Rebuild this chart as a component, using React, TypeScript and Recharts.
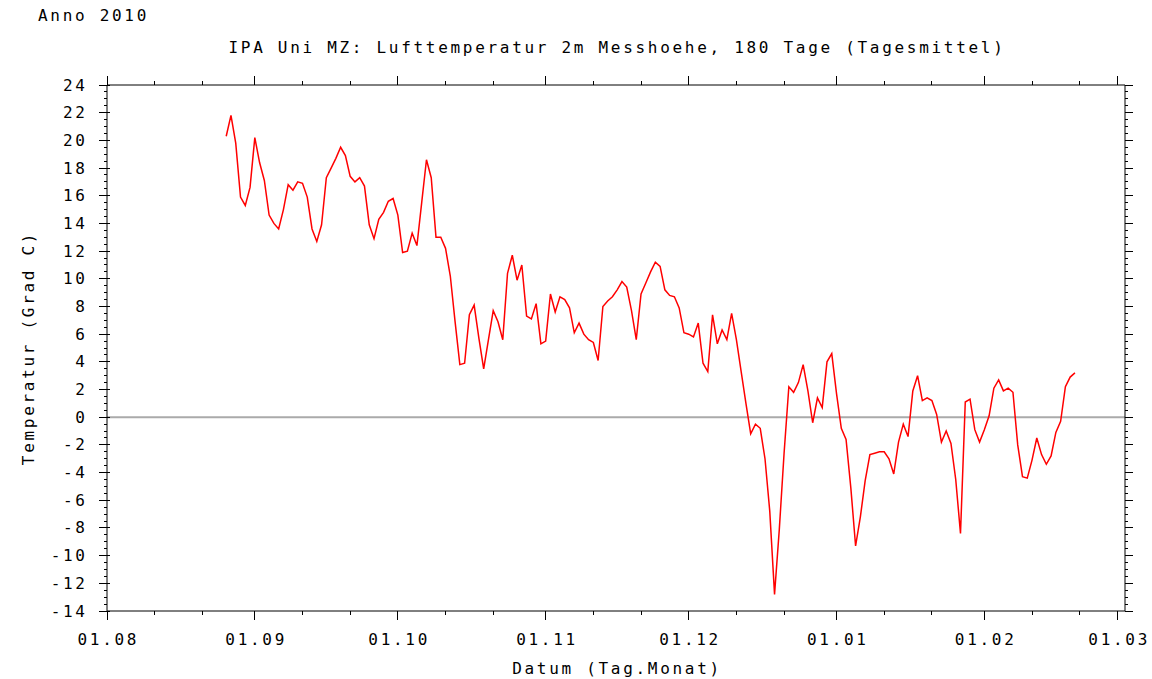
import React from "react";
import { LineChart, Line, XAxis, YAxis, ReferenceLine } from "recharts";

// days counted from 01.08.2010 (day 0)
const firstDay = 25;

// daily mean air temperature, Grad C
const temps = [
  20.3, 21.8, 19.8, 15.9, 15.3, 16.6, 20.2, 18.4, 17.1, 14.6,
  14.0, 13.6, 15.0, 16.8, 16.4, 17.0, 16.9, 15.9, 13.6, 12.7,
  13.9, 17.3, 18.0, 18.7, 19.5, 18.9, 17.4, 17.0, 17.3, 16.7,
  13.9, 12.9, 14.3, 14.8, 15.6, 15.8, 14.6, 11.9, 12.0, 13.3,
  12.4, 15.5, 18.6, 17.3, 13.0, 13.0, 12.2, 10.2, 6.9, 3.8,
  3.9, 7.4, 8.1, 5.7, 3.5, 5.6, 7.7, 6.9, 5.6, 10.4,
  11.7, 9.9, 11.0, 7.3, 7.1, 8.2, 5.3, 5.5, 8.9, 7.6,
  8.7, 8.5, 7.9, 6.1, 6.8, 6.0, 5.6, 5.4, 4.1, 8.0,
  8.4, 8.7, 9.2, 9.8, 9.4, 7.7, 5.6, 8.9, 9.7, 10.5,
  11.2, 10.9, 9.2, 8.8, 8.7, 7.9, 6.1, 6.0, 5.8, 6.8,
  3.9, 3.3, 7.4, 5.3, 6.3, 5.6, 7.5, 5.6, 3.3, 1.0,
  -1.2, -0.5, -0.8, -3.0, -6.8, -12.8, -8.1, -2.6, 2.2, 1.8,
  2.5, 3.8, 1.9, -0.4, 1.4, 0.7, 4.0, 4.6, 1.7, -0.8,
  -1.6, -5.1, -9.3, -7.2, -4.6, -2.7, -2.6, -2.5, -2.5, -3.0,
  -4.1, -1.8, -0.5, -1.4, 1.9, 3.0, 1.2, 1.4, 1.2, 0.2,
  -1.8, -1.0, -1.9, -4.5, -8.4, 1.1, 1.3, -0.9, -1.8, -0.9,
  0.1, 2.1, 2.7, 1.9, 2.1, 1.8, -2.0, -4.3, -4.4, -3.1,
  -1.5, -2.7, -3.4, -2.8, -1.1, -0.3, 2.2, 2.9, 3.2,
];

const monthStarts = [0, 31, 61, 92, 122, 153, 184, 212];
const monthLabels = ["01.08", "01.09", "01.10", "01.11", "01.12", "01.01", "01.02", "01.03"];
const minorDays = [10, 20, 41, 51, 71, 81, 102, 112, 132, 142, 163, 173, 194, 204];
const yMajor = [-14, -12, -10, -8, -6, -4, -2, 0, 2, 4, 6, 8, 10, 12, 14, 16, 18, 20, 22, 24];

const PLOT = { left: 107, right: 1125, top: 85, bottom: 611 };
const FONT = "'DejaVu Sans Mono', monospace";
const FS = 16;
const LS = 2.7;

const data = temps.map((t, i) => ({ day: firstDay + i, t }));
const xTicks = [...monthStarts, ...minorDays].sort((a, b) => a - b);
const yTicks: number[] = [];
for (let v = -14; v <= 24; v += 0.5) yTicks.push(v);

function XTick(props: any) {
  const { x, payload } = props;
  const idx = monthStarts.indexOf(payload.value);
  const len = idx >= 0 ? 9 : 4;
  return (
    <g>
      <line x1={x} x2={x} y1={PLOT.bottom} y2={PLOT.bottom + len} stroke="#000" shapeRendering="crispEdges" />
      <line x1={x} x2={x} y1={PLOT.top} y2={PLOT.top - len} stroke="#000" shapeRendering="crispEdges" />
      {idx >= 0 && (
        <text x={x + LS / 2} y={PLOT.bottom + 34} textAnchor="middle" fontFamily={FONT} fontSize={FS} letterSpacing={LS} fill="#000">
          {monthLabels[idx]}
        </text>
      )}
    </g>
  );
}

function YTick(props: any) {
  const { y, payload } = props;
  const v = payload.value;
  const major = yMajor.includes(v);
  const len = major ? 8 : 3;
  return (
    <g>
      <line x1={PLOT.left - len} x2={PLOT.left + (major ? 3 : 0)} y1={y} y2={y} stroke="#000" shapeRendering="crispEdges" />
      <line x1={PLOT.right} x2={PLOT.right + len} y1={y} y2={y} stroke="#000" shapeRendering="crispEdges" />
      {major && (
        <text x={PLOT.left - 22 + LS} y={y} textAnchor="end" dominantBaseline="central" fontFamily={FONT} fontSize={FS} letterSpacing={LS} fill="#000">
          {v}
        </text>
      )}
    </g>
  );
}

export default function App() {
  const txt = { fontFamily: FONT, fontSize: FS, letterSpacing: LS, fill: "#000" };
  return (
    <div style={{ position: "absolute", left: 0, top: 0, width: 1152, height: 679, background: "#fff" }}>
      <LineChart
        width={1152}
        height={679}
        data={data}
        margin={{ top: PLOT.top, right: 1152 - PLOT.right, left: 0, bottom: 0 }}
      >
        <XAxis
          dataKey="day"
          type="number"
          domain={[0, 213.5]}
          allowDataOverflow
          ticks={xTicks}
          interval={0}
          tick={<XTick />}
          tickLine={false}
          tickSize={0}
          tickMargin={0}
          height={679 - PLOT.bottom}
          axisLine={{ stroke: "#000" }}
        />
        <YAxis
          type="number"
          domain={[-14, 24]}
          allowDataOverflow
          ticks={yTicks}
          interval={0}
          tick={<YTick />}
          tickLine={false}
          tickSize={0}
          tickMargin={0}
          width={PLOT.left}
          axisLine={{ stroke: "#000" }}
        />
        <ReferenceLine y={0} stroke="#aaaaaa" strokeWidth={2} />
        <ReferenceLine y={24} stroke="#000" ifOverflow="visible" />
        <ReferenceLine x={213.5} stroke="#000" ifOverflow="visible" />
        <Line
          type="linear"
          dataKey="t"
          stroke="#ff0000"
          strokeWidth={1.5}
          dot={false}
          activeDot={false}
          isAnimationActive={false}
        />
      </LineChart>
      <svg width={1152} height={679} style={{ position: "absolute", left: 0, top: 0, pointerEvents: "none" }}>
        <text x={38} y={21} {...txt}>Anno 2010</text>
        <text x={617} y={53} textAnchor="middle" {...txt}>
          IPA Uni MZ: Lufttemperatur 2m Messhoehe, 180 Tage (Tagesmittel)
        </text>
        <text x={617} y={674} textAnchor="middle" {...txt}>Datum (Tag.Monat)</text>
        <text x={34} y={348} textAnchor="middle" transform="rotate(-90 34 348)" {...txt}>
          Temperatur (Grad C)
        </text>
      </svg>
    </div>
  );
}
